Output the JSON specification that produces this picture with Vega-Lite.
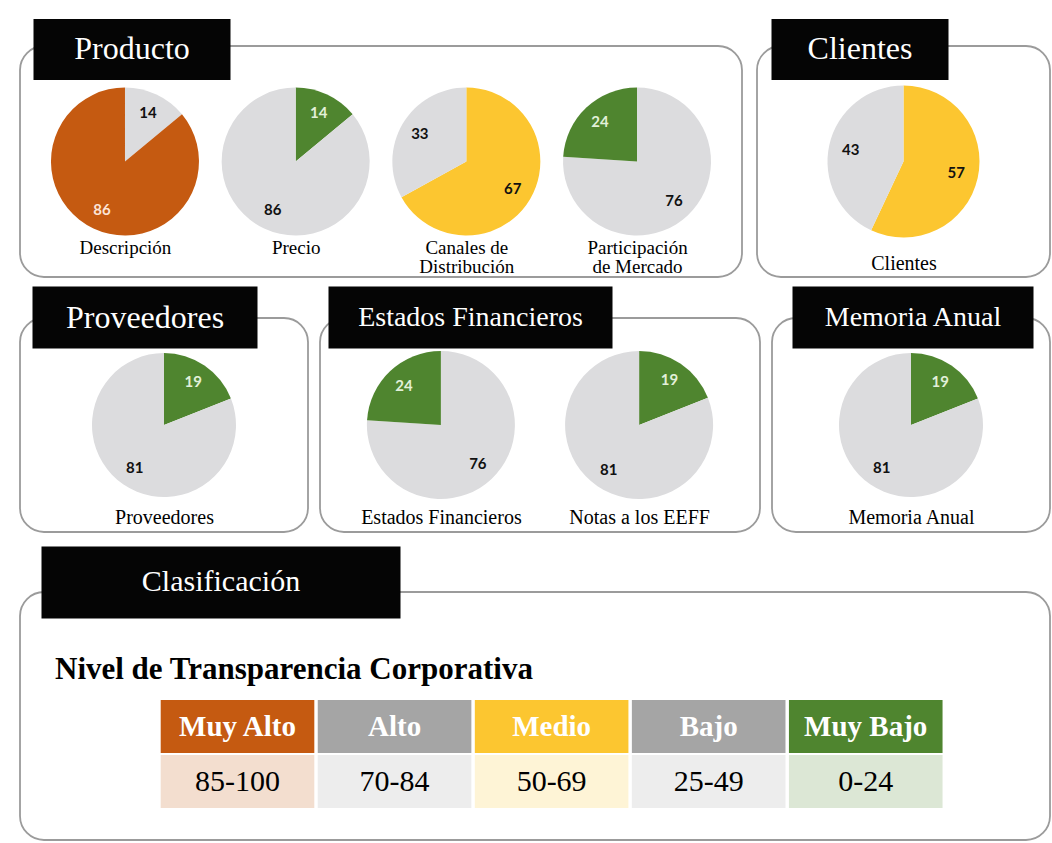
{
  "$schema": "https://vega.github.io/schema/vega-lite/v6.json",
  "background": "white",
  "padding": {"left": 0, "top": 17, "right": 0, "bottom": 0},
  "datasets": {
    "indicadores": [
      {"grupo": "Producto", "indicador": "Descripción", "nivel": "Resto", "valor": 14},
      {"grupo": "Producto", "indicador": "Descripción", "nivel": "Muy Alto", "valor": 86},
      {"grupo": "Producto", "indicador": "Precio", "nivel": "Muy Bajo", "valor": 14},
      {"grupo": "Producto", "indicador": "Precio", "nivel": "Resto", "valor": 86},
      {"grupo": "Producto", "indicador": "Canales de\nDistribución", "nivel": "Medio", "valor": 67},
      {"grupo": "Producto", "indicador": "Canales de\nDistribución", "nivel": "Resto", "valor": 33},
      {"grupo": "Producto", "indicador": "Participación\nde Mercado", "nivel": "Resto", "valor": 76},
      {"grupo": "Producto", "indicador": "Participación\nde Mercado", "nivel": "Muy Bajo", "valor": 24},
      {"grupo": "Clientes", "indicador": "Clientes", "nivel": "Medio", "valor": 57},
      {"grupo": "Clientes", "indicador": "Clientes", "nivel": "Resto", "valor": 43},
      {"grupo": "Proveedores", "indicador": "Proveedores", "nivel": "Muy Bajo", "valor": 19},
      {"grupo": "Proveedores", "indicador": "Proveedores", "nivel": "Resto", "valor": 81},
      {"grupo": "Estados Financieros", "indicador": "Estados Financieros", "nivel": "Resto", "valor": 76},
      {"grupo": "Estados Financieros", "indicador": "Estados Financieros", "nivel": "Muy Bajo", "valor": 24},
      {"grupo": "Estados Financieros", "indicador": "Notas a los EEFF", "nivel": "Muy Bajo", "valor": 19},
      {"grupo": "Estados Financieros", "indicador": "Notas a los EEFF", "nivel": "Resto", "valor": 81},
      {"grupo": "Memoria Anual", "indicador": "Memoria Anual", "nivel": "Muy Bajo", "valor": 19},
      {"grupo": "Memoria Anual", "indicador": "Memoria Anual", "nivel": "Resto", "valor": 81}
    ],
    "grupos": [
      {"grupo": "Producto"}, {"grupo": "Clientes"}, {"grupo": "Proveedores"},
      {"grupo": "Estados Financieros"}, {"grupo": "Memoria Anual"}
    ],
    "clasificacion": [
      {"nivel": "Muy Alto", "rango": "85-100"},
      {"nivel": "Alto", "rango": "70-84"},
      {"nivel": "Medio", "rango": "50-69"},
      {"nivel": "Bajo", "rango": "25-49"},
      {"nivel": "Muy Bajo", "rango": "0-24"}
    ]
  },
  "spacing": 7,
  "vconcat": [
    {
      "spacing": 15,
      "bounds": "flush",
      "hconcat": [
        {
          "width": 722, "height": 231,
          "view": {"stroke": "#9B9B9B", "strokeWidth": 1.8, "cornerRadius": 24},
          "layer": [
            {
              "data": {"name": "indicadores"},
              "transform": [{"filter": "datum.grupo === 'Producto'"}],
              "encoding": {
                "x": {"field": "indicador", "type": "nominal", "sort": null,
                  "scale": {"type": "point", "padding": 0.615},
                  "axis": {"title": null, "orient": "bottom", "domain": false, "ticks": false, "tickSize": 0, "grid": false, "labelPadding": 0, "offset": -30, "labelAngle": 0, "labelFont": "Liberation Serif", "labelFontSize": 19, "labelColor": "#000000", "labelBaseline": "middle", "labelLineHeight": 19, "labelOverlap": false, "labelLimit": 0, "labelExpr": "split(datum.value, '\\n')"}}
              },
              "layer": [
                {
                  "transform": [{"stack": "valor", "groupby": ["indicador"], "as": ["v0", "v1"]}],
                  "mark": {"type": "arc", "radius": 74},
                  "encoding": {
                    "theta": {"field": "v0", "type": "quantitative", "stack": null, "scale": {"domain": [0, 100]}},
                    "theta2": {"field": "v1"},
                    "color": {"field": "nivel", "type": "nominal", "legend": null,
                      "scale": {"domain": ["Muy Alto", "Alto", "Medio", "Bajo", "Muy Bajo", "Resto"], "range": ["#C55A11", "#A5A5A5", "#FCC630", "#A5A5A5", "#4F852F", "#DCDCDE"]}}
                  }
                },
                {
                  "transform": [
                    {"stack": "valor", "groupby": ["indicador"], "as": ["v0", "v1"]},
                    {"fold": ["v0", "v1"], "as": ["extremo", "angulo"]},
                    {"aggregate": [{"op": "mean", "field": "angulo", "as": "medio"}], "groupby": ["indicador", "nivel", "valor"]}
                  ],
                  "mark": {"type": "text", "radius": 54, "font": "Lato", "fontWeight": "bold", "fontSize": 15},
                  "encoding": {
                    "theta": {"field": "medio", "type": "quantitative", "stack": null, "scale": {"domain": [0, 100]}},
                    "text": {"field": "valor", "type": "quantitative"},
                    "color": {"condition": [{"test": "datum.nivel === 'Muy Alto'", "value": "#FCE4D6"}, {"test": "datum.nivel === 'Muy Bajo'", "value": "#E2F0D9"}], "value": "#111111"}
                  }
                }
              ]
            },
            {
              "data": {"name": "grupos"},
              "transform": [{"filter": "datum.grupo === 'Producto'"}],
              "mark": {"type": "point", "opacity": 0},
              "encoding": {
                "y": {"field": "grupo", "type": "nominal",
                  "scale": {"type": "point", "padding": 0.5, "align": 0},
                  "axis": {"title": null, "orient": "left", "domain": false, "grid": false, "ticks": true, "tickSize": 197, "tickWidth": 61, "tickColor": "#050505", "tickCap": "butt", "offset": -210, "tickOffset": 2.5, "labelPadding": -98.5, "labelAlign": "center", "labelBaseline": "middle", "labelAngle": 0, "labelFont": "Liberation Serif", "labelFontSize": 32, "labelColor": "#FFFFFF", "labelLimit": 0, "labelFlush": false, "labelOverlap": false, "zindex": 1}}
              }
            }
          ]
        },
        {
          "width": 293, "height": 231,
          "view": {"stroke": "#9B9B9B", "strokeWidth": 1.8, "cornerRadius": 24},
          "layer": [
            {
              "data": {"name": "indicadores"},
              "transform": [{"filter": "datum.grupo === 'Clientes'"}],
              "encoding": {
                "x": {"field": "indicador", "type": "nominal", "sort": null,
                  "scale": {"type": "point", "padding": 0.5},
                  "axis": {"title": null, "orient": "bottom", "domain": false, "ticks": false, "tickSize": 0, "grid": false, "labelPadding": 0, "offset": -14, "labelAngle": 0, "labelFont": "Liberation Serif", "labelFontSize": 20, "labelColor": "#000000", "labelBaseline": "middle", "labelLineHeight": 20, "labelOverlap": false, "labelLimit": 0, "labelExpr": "split(datum.value, '\\n')"}}
              },
              "layer": [
                {
                  "transform": [{"stack": "valor", "groupby": ["indicador"], "as": ["v0", "v1"]}],
                  "mark": {"type": "arc", "radius": 76},
                  "encoding": {
                    "theta": {"field": "v0", "type": "quantitative", "stack": null, "scale": {"domain": [0, 100]}},
                    "theta2": {"field": "v1"},
                    "color": {"field": "nivel", "type": "nominal", "legend": null,
                      "scale": {"domain": ["Muy Alto", "Alto", "Medio", "Bajo", "Muy Bajo", "Resto"], "range": ["#C55A11", "#A5A5A5", "#FCC630", "#A5A5A5", "#4F852F", "#DCDCDE"]}}
                  }
                },
                {
                  "transform": [
                    {"stack": "valor", "groupby": ["indicador"], "as": ["v0", "v1"]},
                    {"fold": ["v0", "v1"], "as": ["extremo", "angulo"]},
                    {"aggregate": [{"op": "mean", "field": "angulo", "as": "medio"}], "groupby": ["indicador", "nivel", "valor"]}
                  ],
                  "mark": {"type": "text", "radius": 54, "font": "Lato", "fontWeight": "bold", "fontSize": 15},
                  "encoding": {
                    "theta": {"field": "medio", "type": "quantitative", "stack": null, "scale": {"domain": [0, 100]}},
                    "text": {"field": "valor", "type": "quantitative"},
                    "color": {"condition": [{"test": "datum.nivel === 'Muy Alto'", "value": "#FCE4D6"}, {"test": "datum.nivel === 'Muy Bajo'", "value": "#E2F0D9"}], "value": "#111111"}
                  }
                }
              ]
            },
            {
              "data": {"name": "grupos"},
              "transform": [{"filter": "datum.grupo === 'Clientes'"}],
              "mark": {"type": "point", "opacity": 0},
              "encoding": {
                "y": {"field": "grupo", "type": "nominal",
                  "scale": {"type": "point", "padding": 0.5, "align": 0},
                  "axis": {"title": null, "orient": "left", "domain": false, "grid": false, "ticks": true, "tickSize": 177, "tickWidth": 61, "tickColor": "#050505", "tickCap": "butt", "offset": -191, "tickOffset": 2.5, "labelPadding": -88.5, "labelAlign": "center", "labelBaseline": "middle", "labelAngle": 0, "labelFont": "Liberation Serif", "labelFontSize": 32, "labelColor": "#FFFFFF", "labelLimit": 0, "labelFlush": false, "labelOverlap": false, "zindex": 1}}
              }
            }
          ]
        }
      ]
    },
    {
      "spacing": 12,
      "vconcat": [
        {
          "spacing": 12,
          "bounds": "flush",
          "hconcat": [
            {
              "width": 288, "height": 214,
              "view": {"stroke": "#9B9B9B", "strokeWidth": 1.8, "cornerRadius": 24},
              "layer": [
                {
                  "data": {"name": "indicadores"},
                  "transform": [{"filter": "datum.grupo === 'Proveedores'"}],
                  "encoding": {
                    "x": {"field": "indicador", "type": "nominal", "sort": null,
                      "scale": {"type": "point", "padding": 0.5},
                      "axis": {"title": null, "orient": "bottom", "domain": false, "ticks": false, "tickSize": 0, "grid": false, "labelPadding": 0, "offset": -15, "labelAngle": 0, "labelFont": "Liberation Serif", "labelFontSize": 20, "labelColor": "#000000", "labelBaseline": "middle", "labelLineHeight": 20, "labelOverlap": false, "labelLimit": 0, "labelExpr": "split(datum.value, '\\n')"}}
                  },
                  "layer": [
                    {
                      "transform": [{"stack": "valor", "groupby": ["indicador"], "as": ["v0", "v1"]}],
                      "mark": {"type": "arc", "radius": 72},
                      "encoding": {
                        "theta": {"field": "v0", "type": "quantitative", "stack": null, "scale": {"domain": [0, 100]}},
                        "theta2": {"field": "v1"},
                        "color": {"field": "nivel", "type": "nominal", "legend": null,
                          "scale": {"domain": ["Muy Alto", "Alto", "Medio", "Bajo", "Muy Bajo", "Resto"], "range": ["#C55A11", "#A5A5A5", "#FCC630", "#A5A5A5", "#4F852F", "#DCDCDE"]}}
                      }
                    },
                    {
                      "transform": [
                        {"stack": "valor", "groupby": ["indicador"], "as": ["v0", "v1"]},
                        {"fold": ["v0", "v1"], "as": ["extremo", "angulo"]},
                        {"aggregate": [{"op": "mean", "field": "angulo", "as": "medio"}], "groupby": ["indicador", "nivel", "valor"]}
                      ],
                      "mark": {"type": "text", "radius": 52, "font": "Lato", "fontWeight": "bold", "fontSize": 15},
                      "encoding": {
                        "theta": {"field": "medio", "type": "quantitative", "stack": null, "scale": {"domain": [0, 100]}},
                        "text": {"field": "valor", "type": "quantitative"},
                        "color": {"condition": [{"test": "datum.nivel === 'Muy Alto'", "value": "#FCE4D6"}, {"test": "datum.nivel === 'Muy Bajo'", "value": "#E2F0D9"}], "value": "#111111"}
                      }
                    }
                  ]
                },
                {
                  "data": {"name": "grupos"},
                  "transform": [{"filter": "datum.grupo === 'Proveedores'"}],
                  "mark": {"type": "point", "opacity": 0},
                  "encoding": {
                    "y": {"field": "grupo", "type": "nominal",
                      "scale": {"type": "point", "padding": 0.5, "align": 0},
                      "axis": {"title": null, "orient": "left", "domain": false, "grid": false, "ticks": true, "tickSize": 225, "tickWidth": 62, "tickColor": "#050505", "tickCap": "butt", "offset": -237, "tickOffset": -1, "labelPadding": -112.5, "labelAlign": "center", "labelBaseline": "middle", "labelAngle": 0, "labelFont": "Liberation Serif", "labelFontSize": 32, "labelColor": "#FFFFFF", "labelLimit": 0, "labelFlush": false, "labelOverlap": false, "zindex": 1}}
                  }
                }
              ]
            },
            {
              "width": 440, "height": 214,
              "view": {"stroke": "#9B9B9B", "strokeWidth": 1.8, "cornerRadius": 24},
              "layer": [
                {
                  "data": {"name": "indicadores"},
                  "transform": [{"filter": "datum.grupo === 'Estados Financieros'"}],
                  "encoding": {
                    "x": {"field": "indicador", "type": "nominal", "sort": null,
                      "scale": {"type": "point", "padding": 0.61},
                      "axis": {"title": null, "orient": "bottom", "domain": false, "ticks": false, "tickSize": 0, "grid": false, "labelPadding": 0, "offset": -15, "labelAngle": 0, "labelFont": "Liberation Serif", "labelFontSize": 20, "labelColor": "#000000", "labelBaseline": "middle", "labelLineHeight": 20, "labelOverlap": false, "labelLimit": 0, "labelExpr": "split(datum.value, '\\n')"}}
                  },
                  "layer": [
                    {
                      "transform": [{"stack": "valor", "groupby": ["indicador"], "as": ["v0", "v1"]}],
                      "mark": {"type": "arc", "radius": 74},
                      "encoding": {
                        "theta": {"field": "v0", "type": "quantitative", "stack": null, "scale": {"domain": [0, 100]}},
                        "theta2": {"field": "v1"},
                        "color": {"field": "nivel", "type": "nominal", "legend": null,
                          "scale": {"domain": ["Muy Alto", "Alto", "Medio", "Bajo", "Muy Bajo", "Resto"], "range": ["#C55A11", "#A5A5A5", "#FCC630", "#A5A5A5", "#4F852F", "#DCDCDE"]}}
                      }
                    },
                    {
                      "transform": [
                        {"stack": "valor", "groupby": ["indicador"], "as": ["v0", "v1"]},
                        {"fold": ["v0", "v1"], "as": ["extremo", "angulo"]},
                        {"aggregate": [{"op": "mean", "field": "angulo", "as": "medio"}], "groupby": ["indicador", "nivel", "valor"]}
                      ],
                      "mark": {"type": "text", "radius": 54, "font": "Lato", "fontWeight": "bold", "fontSize": 15},
                      "encoding": {
                        "theta": {"field": "medio", "type": "quantitative", "stack": null, "scale": {"domain": [0, 100]}},
                        "text": {"field": "valor", "type": "quantitative"},
                        "color": {"condition": [{"test": "datum.nivel === 'Muy Alto'", "value": "#FCE4D6"}, {"test": "datum.nivel === 'Muy Bajo'", "value": "#E2F0D9"}], "value": "#111111"}
                      }
                    }
                  ]
                },
                {
                  "data": {"name": "grupos"},
                  "transform": [{"filter": "datum.grupo === 'Estados Financieros'"}],
                  "mark": {"type": "point", "opacity": 0},
                  "encoding": {
                    "y": {"field": "grupo", "type": "nominal",
                      "scale": {"type": "point", "padding": 0.5, "align": 0},
                      "axis": {"title": null, "orient": "left", "domain": false, "grid": false, "ticks": true, "tickSize": 284, "tickWidth": 62, "tickColor": "#050505", "tickCap": "butt", "offset": -292, "tickOffset": -1, "labelPadding": -142, "labelAlign": "center", "labelBaseline": "middle", "labelAngle": 0, "labelFont": "Liberation Serif", "labelFontSize": 28, "labelColor": "#FFFFFF", "labelLimit": 0, "labelFlush": false, "labelOverlap": false, "zindex": 1}}
                  }
                }
              ]
            },
            {
              "width": 278, "height": 214,
              "view": {"stroke": "#9B9B9B", "strokeWidth": 1.8, "cornerRadius": 24},
              "layer": [
                {
                  "data": {"name": "indicadores"},
                  "transform": [{"filter": "datum.grupo === 'Memoria Anual'"}],
                  "encoding": {
                    "x": {"field": "indicador", "type": "nominal", "sort": null,
                      "scale": {"type": "point", "padding": 0.5},
                      "axis": {"title": null, "orient": "bottom", "domain": false, "ticks": false, "tickSize": 0, "grid": false, "labelPadding": 0, "offset": -15, "labelAngle": 0, "labelFont": "Liberation Serif", "labelFontSize": 20, "labelColor": "#000000", "labelBaseline": "middle", "labelLineHeight": 20, "labelOverlap": false, "labelLimit": 0, "labelExpr": "split(datum.value, '\\n')"}}
                  },
                  "layer": [
                    {
                      "transform": [{"stack": "valor", "groupby": ["indicador"], "as": ["v0", "v1"]}],
                      "mark": {"type": "arc", "radius": 72},
                      "encoding": {
                        "theta": {"field": "v0", "type": "quantitative", "stack": null, "scale": {"domain": [0, 100]}},
                        "theta2": {"field": "v1"},
                        "color": {"field": "nivel", "type": "nominal", "legend": null,
                          "scale": {"domain": ["Muy Alto", "Alto", "Medio", "Bajo", "Muy Bajo", "Resto"], "range": ["#C55A11", "#A5A5A5", "#FCC630", "#A5A5A5", "#4F852F", "#DCDCDE"]}}
                      }
                    },
                    {
                      "transform": [
                        {"stack": "valor", "groupby": ["indicador"], "as": ["v0", "v1"]},
                        {"fold": ["v0", "v1"], "as": ["extremo", "angulo"]},
                        {"aggregate": [{"op": "mean", "field": "angulo", "as": "medio"}], "groupby": ["indicador", "nivel", "valor"]}
                      ],
                      "mark": {"type": "text", "radius": 52, "font": "Lato", "fontWeight": "bold", "fontSize": 15},
                      "encoding": {
                        "theta": {"field": "medio", "type": "quantitative", "stack": null, "scale": {"domain": [0, 100]}},
                        "text": {"field": "valor", "type": "quantitative"},
                        "color": {"condition": [{"test": "datum.nivel === 'Muy Alto'", "value": "#FCE4D6"}, {"test": "datum.nivel === 'Muy Bajo'", "value": "#E2F0D9"}], "value": "#111111"}
                      }
                    }
                  ]
                },
                {
                  "data": {"name": "grupos"},
                  "transform": [{"filter": "datum.grupo === 'Memoria Anual'"}],
                  "mark": {"type": "point", "opacity": 0},
                  "encoding": {
                    "y": {"field": "grupo", "type": "nominal",
                      "scale": {"type": "point", "padding": 0.5, "align": 0},
                      "axis": {"title": null, "orient": "left", "domain": false, "grid": false, "ticks": true, "tickSize": 241, "tickWidth": 62, "tickColor": "#050505", "tickCap": "butt", "offset": -261, "tickOffset": -1, "labelPadding": -120.5, "labelAlign": "center", "labelBaseline": "middle", "labelAngle": 0, "labelFont": "Liberation Serif", "labelFontSize": 28, "labelColor": "#FFFFFF", "labelLimit": 0, "labelFlush": false, "labelOverlap": false, "zindex": 1}}
                  }
                }
              ]
            }
          ]
        },
        {
          "width": 1030, "height": 248,
          "view": {"stroke": "#9B9B9B", "strokeWidth": 1.8, "cornerRadius": 24},
          "title": {"text": "Nivel de Transparencia Corporativa", "anchor": "start", "frame": "group", "orient": "top", "offset": -140, "dx": 35, "font": "Liberation Serif", "fontSize": 31, "fontWeight": "bold", "color": "#000000"},
          "data": {"name": "clasificacion"},
          "transform": [{"fold": ["nivel", "rango"], "as": ["fila", "texto"]}],
          "encoding": {
            "x": {"field": "nivel", "type": "nominal", "sort": ["Muy Alto", "Alto", "Medio", "Bajo", "Muy Bajo"],
              "scale": {"paddingInner": 0.022, "paddingOuter": 0.79, "align": 0.567}, "axis": null},
            "y": {"field": "fila", "type": "nominal",
              "scale": {"domain": ["Clasificación", "nivel", "rango"], "paddingInner": 0.036, "paddingOuter": 0.7725, "align": 0.624},
              "axis": {"values": ["Clasificación"], "title": null, "orient": "left", "domain": false, "grid": false, "ticks": true, "tickSize": 359, "tickWidth": 72, "tickColor": "#050505", "tickCap": "butt", "offset": -380, "tickOffset": -90, "labelPadding": -179.5, "labelAlign": "center", "labelBaseline": "middle", "labelAngle": 0, "labelFont": "Liberation Serif", "labelFontSize": 30, "labelColor": "#FFFFFF", "labelLimit": 0, "labelFlush": false, "labelOverlap": false, "zindex": 1}}
          },
          "layer": [
            {
              "mark": {"type": "rect"},
              "encoding": {
                "color": {"field": "nivel", "type": "nominal", "legend": null,
                  "scale": {"domain": ["Muy Alto", "Alto", "Medio", "Bajo", "Muy Bajo", "Resto"], "range": ["#C55A11", "#A5A5A5", "#FCC630", "#A5A5A5", "#4F852F", "#DCDCDE"]}},
                "opacity": {"field": "fila", "type": "nominal", "legend": null, "scale": {"domain": ["nivel", "rango"], "range": [1, 0.2]}}
              }
            },
            {
              "transform": [{"filter": "datum.fila === 'nivel'"}],
              "mark": {"type": "text", "font": "Liberation Serif", "fontSize": 29, "fontWeight": "bold", "color": "#FFFFFF"},
              "encoding": {"text": {"field": "texto"}}
            },
            {
              "transform": [{"filter": "datum.fila === 'rango'"}],
              "mark": {"type": "text", "font": "Liberation Serif", "fontSize": 30, "color": "#000000"},
              "encoding": {"text": {"field": "texto"}}
            }
          ]
        }
      ]
    }
  ],
  "config": {
    "view": {"stroke": null}
  }
}
